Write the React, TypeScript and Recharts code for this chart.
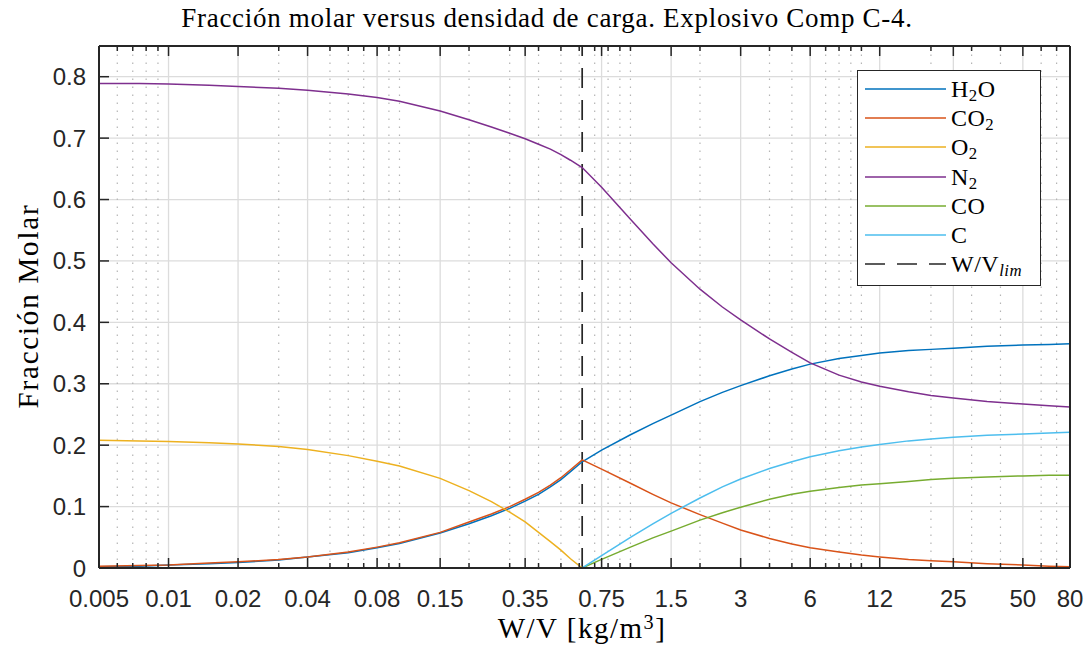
import { LineChart, Line, XAxis, YAxis, CartesianGrid, ReferenceLine } from 'recharts';

// densidad de carga W/V [kg/m3]
const wv = [
  0.005, 0.0075, 0.01, 0.015, 0.02, 0.03, 0.04, 0.06, 0.08, 0.1, 0.15, 0.2, 0.25, 0.3, 0.35, 0.4, 0.45, 0.5, 0.55,
  0.618, 0.75, 1, 1.25, 1.5, 2, 2.5, 3, 4, 5, 6, 8, 10, 12, 16, 20, 25, 35, 50, 65, 80,
];
const h2o = [
  0.002, 0.003, 0.005, 0.007, 0.009, 0.013, 0.018, 0.025, 0.033, 0.04, 0.057, 0.072, 0.085, 0.097, 0.109, 0.12, 0.132, 0.144, 0.157,
  0.173, 0.192, 0.217, 0.235, 0.249, 0.271, 0.286, 0.297, 0.313, 0.324, 0.332, 0.341, 0.346, 0.35, 0.354, 0.356, 0.358, 0.361, 0.363, 0.364, 0.365,
];
const co2 = [
  0.003, 0.004, 0.005, 0.008, 0.01, 0.014, 0.018, 0.026, 0.034, 0.041, 0.058, 0.075, 0.088, 0.1, 0.112, 0.123, 0.135, 0.147, 0.16,
  0.176, 0.161, 0.138, 0.12, 0.106, 0.087, 0.073, 0.062, 0.048, 0.039, 0.033, 0.026, 0.021, 0.018, 0.014, 0.012, 0.01, 0.007, 0.005, 0.003, 0.002,
];
const o2 = [
  0.208, 0.207, 0.206, 0.204, 0.202, 0.198, 0.193, 0.183, 0.174, 0.166, 0.146, 0.126, 0.108, 0.091, 0.075, 0.058, 0.043, 0.029, 0.015,
  0, 0, 0, 0, 0, 0, 0, 0, 0, 0, 0, 0, 0, 0, 0, 0, 0, 0, 0, 0, 0,
];
const n2 = [
  0.789, 0.789, 0.788, 0.786, 0.784, 0.781, 0.778, 0.772, 0.766, 0.76, 0.744, 0.73, 0.718, 0.708, 0.699, 0.69, 0.682, 0.673, 0.664,
  0.652, 0.62, 0.568, 0.528, 0.497, 0.454, 0.425, 0.404, 0.373, 0.351, 0.334, 0.314, 0.303, 0.296, 0.287, 0.281, 0.277, 0.271, 0.267, 0.264, 0.262,
];
const co = [
  0, 0, 0, 0, 0, 0, 0, 0, 0, 0, 0, 0, 0, 0, 0, 0, 0, 0, 0,
  0, 0.014, 0.034, 0.049, 0.06, 0.078, 0.09, 0.099, 0.112, 0.12, 0.125, 0.131, 0.135, 0.137, 0.141, 0.144, 0.146, 0.148, 0.15, 0.151, 0.151,
];
const carbon = [
  0, 0, 0, 0, 0, 0, 0, 0, 0, 0, 0, 0, 0, 0, 0, 0, 0, 0, 0,
  0, 0.02, 0.05, 0.072, 0.089, 0.114, 0.132, 0.145, 0.162, 0.173, 0.181, 0.191, 0.197, 0.201, 0.207, 0.21, 0.213, 0.216, 0.218, 0.22, 0.221,
];
const wvLim = 0.618;

const xTicks = [0.005, 0.01, 0.02, 0.04, 0.08, 0.15, 0.35, 0.75, 1.5, 3, 6, 12, 25, 50, 80];
const xMinor = [
  0.006, 0.007, 0.008, 0.009, 0.03, 0.05, 0.06, 0.07, 0.09, 0.1, 0.2, 0.3, 0.4, 0.5, 0.6, 0.7, 0.8, 0.9,
  1, 2, 4, 5, 7, 8, 9, 10, 20, 30, 40, 60, 70,
];
const yTicks = [0, 0.1, 0.2, 0.3, 0.4, 0.5, 0.6, 0.7, 0.8];

const data = wv.map((x, i) => ({
  wv: x, h2o: h2o[i], co2: co2[i], o2: o2[i], n2: n2[i], co: co[i], c: carbon[i],
}));
const allXTicks = [...xTicks, ...xMinor].sort((a, b) => a - b);

const subStyle = { fontSize: '0.7em', verticalAlign: '-0.25em', lineHeight: 0 };
const series = [
  { key: 'h2o', color: '#0072BD', label: <>H<sub style={subStyle}>2</sub>O</> },
  { key: 'co2', color: '#D95319', label: <>CO<sub style={subStyle}>2</sub></> },
  { key: 'o2', color: '#EDB120', label: <>O<sub style={subStyle}>2</sub></> },
  { key: 'n2', color: '#7E2F8E', label: <>N<sub style={subStyle}>2</sub></> },
  { key: 'co', color: '#77AC30', label: <>CO</> },
  { key: 'c', color: '#4DBEEE', label: <>C</> },
];

const AX = '#262626';
const SANS = '"Liberation Sans", Arial, sans-serif';
const SERIF = '"Liberation Serif", "Times New Roman", serif';

const BottomTick = ({ x, y, payload }: any) => {
  const major = xTicks.includes(payload.value);
  return (
    <g>
      <line x1={x} x2={x} y1={y} y2={y - (major ? 10 : 5)} stroke={AX} strokeWidth={1.5} />
      {major && (
        <text x={x} y={y + 39} textAnchor="middle" fontSize={24} fill={AX} fontFamily={SANS}>
          {payload.value}
        </text>
      )}
    </g>
  );
};

const TopTick = ({ x, y, payload }: any) => {
  const major = xTicks.includes(payload.value);
  return <line x1={x} x2={x} y1={y} y2={y + (major ? 10 : 5)} stroke={AX} strokeWidth={1.5} />;
};

const LeftTick = ({ x, y, payload }: any) => (
  <g>
    <line x1={x} x2={x + 10} y1={y} y2={y} stroke={AX} strokeWidth={1.5} />
    <text x={x - 13} y={y + 8.5} textAnchor="end" fontSize={24} fill={AX} fontFamily={SANS}>
      {payload.value}
    </text>
  </g>
);

const RightTick = ({ x, y }: any) => (
  <line x1={x} x2={x - 10} y1={y} y2={y} stroke={AX} strokeWidth={1.5} />
);

export default function App() {
  return (
    <div style={{ position: 'absolute', left: 0, top: 0, width: 1091, height: 654, background: '#fff' }}>
      <LineChart width={1091} height={654} data={data} margin={{ top: 40, right: 15, bottom: 26, left: 39 }}>
        <CartesianGrid vertical={false} stroke="#dcdcdc" strokeWidth={1.3} />
        {xMinor.map((v) => (
          <ReferenceLine key={'m' + v} x={v} stroke="#b5b5b5" strokeWidth={1.2} strokeDasharray="1.5 6.5" />
        ))}
        {xTicks.slice(1, -1).map((v) => (
          <ReferenceLine key={'M' + v} x={v} stroke="#dcdcdc" strokeWidth={1.3} />
        ))}
        <XAxis
          dataKey="wv" type="number" scale="log" domain={[0.005, 80]} allowDataOverflow
          ticks={allXTicks} interval={0} tickSize={0} tickMargin={0} tickLine={false}
          tick={BottomTick} axisLine={{ stroke: AX, strokeWidth: 2 }} height={60}
        />
        <XAxis
          xAxisId="top" orientation="top" dataKey="wv" type="number" scale="log" domain={[0.005, 80]} allowDataOverflow
          ticks={allXTicks} interval={0} tickSize={0} tickMargin={0} tickLine={false}
          tick={TopTick} axisLine={{ stroke: AX, strokeWidth: 2 }} height={6}
        />
        <YAxis
          type="number" domain={[0, 0.85]} ticks={yTicks} interval={0} allowDataOverflow
          tickSize={0} tickMargin={0} tickLine={false} tick={LeftTick}
          axisLine={{ stroke: AX, strokeWidth: 2 }} width={60}
        />
        <YAxis
          yAxisId="right" orientation="right" type="number" domain={[0, 0.85]} ticks={yTicks} interval={0}
          tickSize={0} tickMargin={0} tickLine={false} tick={RightTick}
          axisLine={{ stroke: AX, strokeWidth: 2 }} width={6}
        />
        <ReferenceLine x={wvLim} stroke={AX} strokeWidth={1.7} strokeDasharray="20 12" />
        {series.map((s) => (
          <Line
            key={s.key} dataKey={s.key} type="linear" stroke={s.color} strokeWidth={1.5}
            dot={false} activeDot={false} isAnimationActive={false}
          />
        ))}
      </LineChart>

      <div style={{ position: 'absolute', left: 0, width: 1094, top: 3, textAlign: 'center', fontFamily: SERIF, fontSize: 27, letterSpacing: 0.7, color: '#000', whiteSpace: 'nowrap' }}>
        Fracción molar versus densidad de carga. Explosivo Comp C-4.
      </div>
      <div style={{ position: 'absolute', left: 482, width: 200, top: 612, textAlign: 'center', fontFamily: SERIF, fontSize: 29, letterSpacing: 1.5, color: '#000', whiteSpace: 'nowrap' }}>
        W/V [kg/m<sup style={{ fontSize: '0.7em', verticalAlign: '0.45em', lineHeight: 0 }}>3</sup>]
      </div>
      <div style={{ position: 'absolute', left: 28, top: 306, transform: 'translate(-50%, -50%) rotate(-90deg)', fontFamily: SERIF, fontSize: 29, letterSpacing: 1.8, color: '#000', whiteSpace: 'nowrap' }}>
        Fracción Molar
      </div>

      <div style={{ position: 'absolute', left: 857, top: 70, width: 182, height: 211, border: `1.5px solid ${AX}`, background: '#fff', paddingTop: 3, boxSizing: 'content-box' }}>
        {series.map((s) => (
          <div key={s.key} style={{ display: 'flex', alignItems: 'center', height: 29.3 }}>
            <svg width={93} height={10} style={{ flex: 'none' }}>
              <line x1={7} x2={88} y1={5} y2={5} stroke={s.color} strokeWidth={1.5} />
            </svg>
            <span style={{ fontFamily: SERIF, fontSize: 24, letterSpacing: 0.5, lineHeight: 1, color: '#000' }}>{s.label}</span>
          </div>
        ))}
        <div style={{ display: 'flex', alignItems: 'center', height: 29.3 }}>
          <svg width={93} height={10} style={{ flex: 'none' }}>
            <line x1={7} x2={88} y1={5} y2={5} stroke={AX} strokeWidth={1.7} strokeDasharray="20 12" />
          </svg>
          <span style={{ fontFamily: SERIF, fontSize: 24, letterSpacing: 0.5, lineHeight: 1, color: '#000' }}>
            W/V<sub style={{ ...subStyle, fontStyle: 'italic' }}>lim</sub>
          </span>
        </div>
      </div>
    </div>
  );
}
